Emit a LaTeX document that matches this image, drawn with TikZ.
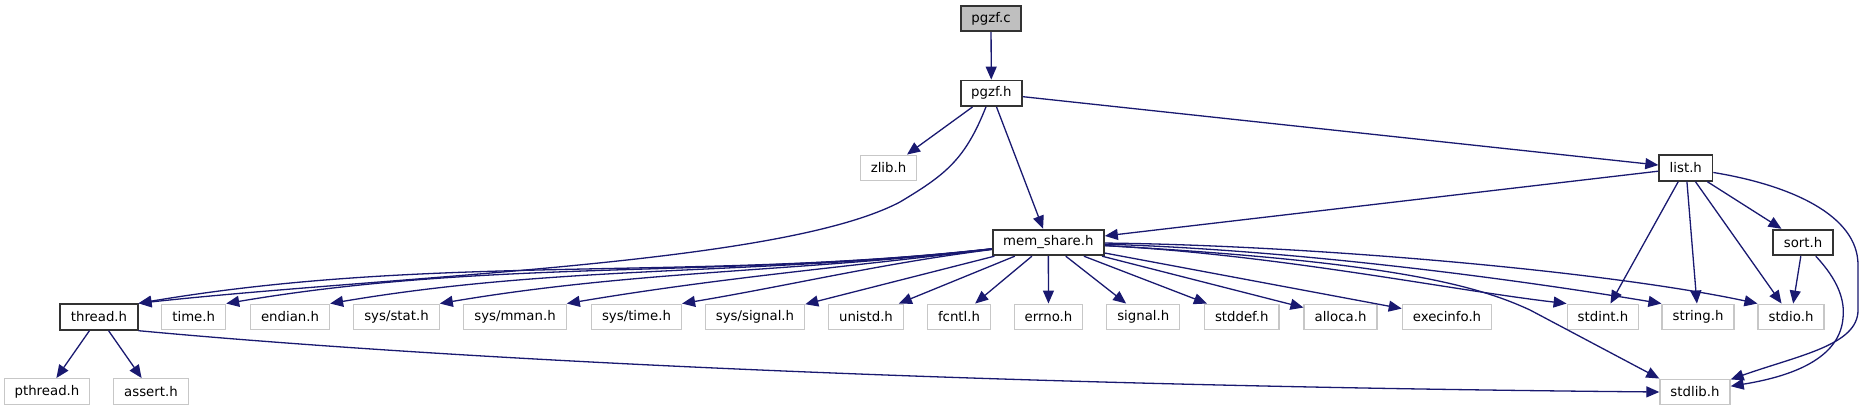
\documentclass[tikz,border=0pt]{standalone}
\usepackage{fontspec}
\setmainfont{DejaVu Sans}
\usetikzlibrary{arrows.meta}
\definecolor{edgeblue}{HTML}{191970}
\tikzset{
  box/.style={draw, rectangle, inner xsep=10.5pt, inner ysep=0pt, minimum height=25.6pt, font=\fontsize{13.3}{16}\selectfont},
  doc/.style={box, draw=black!80, line width=1.8pt, fill=white},
  root/.style={doc, fill=black!25},
  ext/.style={box, draw=black!22, line width=1.3pt, fill=white},
  edge/.style={draw=edgeblue, line width=1.3pt, -{Triangle[length=13pt,width=11pt]}},
}
\begin{document}
\begin{tikzpicture}[x=1pt,y=1pt]
    \useasboundingbox (0,0) rectangle (1867,-411);
    \node[root] (pgzfc) at (991,-18.5) {pgzf.c};
    \node[doc] (pgzfh) at (991.3,-93.3) {pgzf.h};
    \node[ext] (zlibh) at (888.5,-168) {zlib.h};
    \node[doc] (listh) at (1685.8,-168) {list.h};
    \node[doc] (memshare) at (1048.3,-242.5) {mem\_share.h};
    \node[doc] (sorth) at (1803,-242.5) {sort.h};
    \node[doc] (threadh) at (99,-317) {thread.h};
    \node[ext] (timeh) at (193.7,-317) {time.h};
    \node[ext] (endianh) at (290,-317) {endian.h};
    \node[ext] (sysstat) at (396.5,-317) {sys/stat.h};
    \node[ext] (sysmman) at (515,-317) {sys/mman.h};
    \node[ext] (systime) at (636.5,-317) {sys/time.h};
    \node[ext] (syssignal) at (755,-317) {sys/signal.h};
    \node[ext] (unistdh) at (866,-317) {unistd.h};
    \node[ext] (fcntlh) at (959,-317) {fcntl.h};
    \node[ext] (errnoh) at (1048.5,-317) {errno.h};
    \node[ext] (signalh) at (1143.3,-317) {signal.h};
    \node[ext] (stddefh) at (1241.8,-317) {stddef.h};
    \node[ext] (allocah) at (1340.5,-317) {alloca.h};
    \node[ext] (execinfoh) at (1447,-317) {execinfo.h};
    \node[ext] (stdinth) at (1603,-317) {stdint.h};
    \node[ext] (stringh) at (1698,-317) {string.h};
    \node[ext] (stdioh) at (1791,-317) {stdio.h};
    \node[ext] (pthreadh) at (47,-391.5) {pthread.h};
    \node[ext] (asserth) at (151,-391.5) {assert.h};
    \node[ext] (stdlibh) at (1695,-392) {stdlib.h};

    \draw[edge] (pgzfc) -- (pgzfh);
    \draw[edge] (pgzfh) -- (zlibh);
    \draw[edge] (pgzfh) -- (memshare);
    \draw[edge] (pgzfh) -- (listh);
    \draw[edge] (pgzfh) .. controls (965,-160) and (945,-175) .. (900,-202) .. controls (780,-265) and (400,-275) .. (threadh.north east);
    \draw[edge] (listh) -- (memshare);
    \draw[edge] (listh) -- (sorth);
    \draw[edge] (listh) -- (stdinth);
    \draw[edge] (listh) -- (stringh);
    \draw[edge] (listh) -- (stdioh);
    \draw[edge] (listh) .. controls (1790,-185) and (1858,-215) .. (1858,-265) -- (1858,-310) .. controls (1858,-345) and (1800,-355) .. (stdlibh);
    \draw[edge] (sorth) -- (stdioh);
    \draw[edge] (sorth) .. controls (1838,-280) and (1845,-300) .. (1843,-318) .. controls (1840,-355) and (1800,-375) .. (stdlibh);
    \draw[edge] (threadh) -- (pthreadh);
    \draw[edge] (threadh) -- (asserth);
    \draw[edge] (threadh.south east) .. controls (400,-355) and (900,-385) .. (stdlibh.west);
    \draw[edge] (memshare) .. controls (693,-282) and (437,-253) .. (threadh.north east);
    \draw[edge] (memshare) .. controls (724.5,-278.8) and (494.5,-258) .. (timeh.north east);
    \draw[edge] (memshare) .. controls (760.6,-275.2) and (561.4,-264.2) .. (endianh.north east);
    \draw[edge] (memshare) .. controls (799,-271.4) and (633,-270.8) .. (sysstat.north east);
    \draw[edge] (memshare) .. controls (844,-267) and (716,-278.4) .. (sysmman.north east);
    \draw[edge] (memshare) .. controls (884,-263) and (791,-285.3) .. (systime.north east);
    \draw[edge] (memshare) -- (syssignal);
    \draw[edge] (memshare) -- (unistdh);
    \draw[edge] (memshare) -- (fcntlh);
    \draw[edge] (memshare) -- (errnoh);
    \draw[edge] (memshare) -- (signalh);
    \draw[edge] (memshare) -- (stddefh);
    \draw[edge] (memshare) -- (allocah);
    \draw[edge] (memshare) -- (execinfoh);
    \draw[edge] (memshare) .. controls (1280,-255) and (1450,-290) .. (stdinth.north west);
    \draw[edge] (memshare) .. controls (1300,-250) and (1520,-280) .. (stringh.north west);
    \draw[edge] (memshare) .. controls (1300,-245) and (1600,-270) .. (stdioh.north west);
    \draw[edge] (memshare) .. controls (1400,-262) and (1480,-287) .. (1530,-310) -- (stdlibh.north west);
\end{tikzpicture}
\end{document}
